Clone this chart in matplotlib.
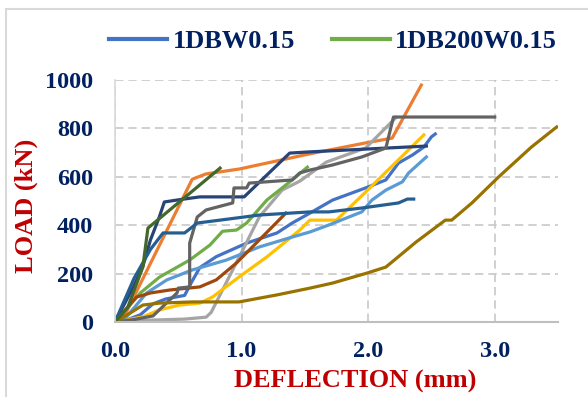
import matplotlib.pyplot as plt
from matplotlib.patches import Rectangle

plt.rcParams['font.family'] = ['Liberation Serif', 'DejaVu Serif']
plt.rcParams['font.weight'] = 'bold'

# deflection (mm) / load (kN) per specimen
blue_x = [0, 0.1, 0.2, 0.3, 0.4, 0.55, 0.6, 0.67, 0.8, 1.04, 1.28, 1.40, 1.54, 1.72, 1.98, 2.14, 2.24, 2.35, 2.44, 2.50, 2.53]
blue_y = [0, 10, 30, 75, 95, 110, 160, 225, 270, 326, 368, 409, 450, 504, 554, 587, 657, 690, 723, 765, 777]

orange_x = [0, 0.06, 0.61, 0.72, 0.98, 1.54, 1.98, 2.19, 2.42]
orange_y = [0, 10, 590, 612, 632, 695, 740, 760, 979]

lgray_x = [0, 0.3, 0.55, 0.72, 0.76, 1.01, 1.14, 1.32, 1.46, 1.67, 1.98, 2.22]
lgray_y = [0, 8, 12, 20, 40, 298, 434, 545, 582, 661, 719, 845]

yellow_x = [0, 0.22, 0.35, 0.51, 0.67, 0.77, 0.98, 1.20, 1.46, 1.54, 1.75, 1.98, 2.44]
yellow_y = [0, 21, 50, 70, 78, 103, 186, 269, 380, 421, 421, 537, 773]

lblue_x = [0, 0.09, 0.25, 0.41, 0.61, 0.88, 1.14, 1.40, 1.54, 1.69, 1.95, 2.03, 2.14, 2.27, 2.32, 2.46]
lblue_y = [0, 21, 120, 174, 215, 256, 310, 351, 372, 401, 455, 504, 545, 579, 616, 682]

green_x = [0, 0.1, 0.2, 0.35, 0.59, 0.75, 0.85, 0.96, 1.04, 1.2, 1.4, 1.52]
green_y = [0, 60, 120, 185, 256, 318, 375, 380, 409, 504, 587, 640]

navy_x = [0, 0.15, 0.22, 0.28, 0.35, 0.39, 0.49, 0.67, 1.02, 1.38, 1.54, 2.46]
navy_y = [0, 150, 230, 339, 434, 496, 504, 517, 517, 698, 703, 727]

brown_x = [0, 0.17, 0.28, 0.43, 0.67, 0.80, 0.96, 1.14, 1.35]
brown_y = [0, 103, 120, 132, 145, 174, 244, 339, 450]

dgray_x = [0, 0.15, 0.3, 0.49, 0.5, 0.59, 0.59, 0.65, 0.72, 0.93, 0.94, 1.04, 1.06, 1.40, 1.46, 1.54, 1.61, 1.72, 1.95, 2.14, 2.20, 3.0]
dgray_y = [0, 10, 25, 120, 140, 145, 326, 434, 463, 492, 554, 554, 574, 587, 616, 628, 636, 649, 682, 719, 847, 847]

olive_x = [0, 0.12, 0.22, 0.35, 0.61, 0.98, 1.28, 1.54, 1.72, 1.99, 2.14, 2.38, 2.61, 2.66, 2.82, 3.03, 3.29, 3.49]
olive_y = [0, 37, 70, 78, 83, 83, 112, 140, 161, 202, 227, 331, 421, 421, 492, 599, 723, 806]

mblue_x = [0, 0.15, 0.28, 0.38, 0.55, 0.65, 0.83, 1.14, 1.54, 1.69, 1.95, 2.24, 2.31, 2.36]
mblue_y = [0, 180, 300, 368, 368, 409, 421, 442, 455, 455, 471, 492, 508, 508]

dgreen_x = [0, 0.1, 0.22, 0.26, 0.83]
dgreen_y = [0, 60, 227, 388, 636]

fig = plt.figure(figsize=(5.88, 3.97), dpi=100)
ax = fig.add_axes([115 / 588, 1 - 322 / 397, 443 / 588, 242 / 397])

lw = 2.3
ax.plot(blue_x, blue_y, color='#4472C4', lw=lw, label='1DBW0.15')
ax.plot(orange_x, orange_y, color='#ED7D31', lw=lw)
ax.plot(lgray_x, lgray_y, color='#A5A5A5', lw=lw)
ax.plot(yellow_x, yellow_y, color='#FFC000', lw=lw)
ax.plot(lblue_x, lblue_y, color='#5B9BD5', lw=lw)
ax.plot(green_x, green_y, color='#70AD47', lw=lw, label='1DB200W0.15')
ax.plot(navy_x, navy_y, color='#264478', lw=lw)
ax.plot(brown_x, brown_y, color='#9E480E', lw=lw)
ax.plot(dgray_x, dgray_y, color='#636363', lw=lw)
ax.plot(olive_x, olive_y, color='#997300', lw=lw)
ax.plot(mblue_x, mblue_y, color='#255E91', lw=lw)
ax.plot(dgreen_x, dgreen_y, color='#43682B', lw=lw)

ax.set_xlim(0, 3.5)
ax.set_ylim(0, 1000)
ax.set_xticks([0, 1, 2, 3])
ax.set_xticklabels(['0.0', '1.0', '2.0', '3.0'])
ax.set_yticks(range(0, 1001, 200))
ax.tick_params(length=0, labelsize=17.5, labelcolor='#002060')
ax.tick_params(axis='x', pad=14)
ax.tick_params(axis='y', pad=16)

ax.grid(True, color='#C8C8C8', lw=1.2, linestyle=(0, (5, 3)))
ax.set_axisbelow(True)
for s in ['top', 'right']:
    ax.spines[s].set_visible(False)
ax.spines['bottom'].set_color('#BFBFBF')
ax.spines['bottom'].set_linewidth(1.5)
ax.spines['left'].set_color('#D9D9D9')
ax.spines['left'].set_linewidth(1.2)

fig.text(355 / 588, 1 - 381 / 397, 'DEFLECTION (mm)', color='#C00000', fontsize=19,
         ha='center', va='center')
fig.text(26 / 588, 1 - 206 / 397, 'LOAD (kN)', color='#C00000', fontsize=19,
         ha='center', va='center', rotation=90)

leg = fig.legend(loc='center', bbox_to_anchor=(333 / 588, 1 - 41 / 397), ncol=2, frameon=False,
                 fontsize=19, handlelength=2.2, handletextpad=0.2, columnspacing=1.4)
for t in leg.get_texts():
    t.set_color('#002060')
for h in leg.legend_handles:
    h.set_linewidth(3)

fig.patches.append(Rectangle((6 / 588, -0.01), 1.0, 1 - 9 / 397 + 0.01, transform=fig.transFigure,
                             fill=False, edgecolor='#D9D9D9', lw=1.5))

plt.savefig('out.png', dpi=100)
